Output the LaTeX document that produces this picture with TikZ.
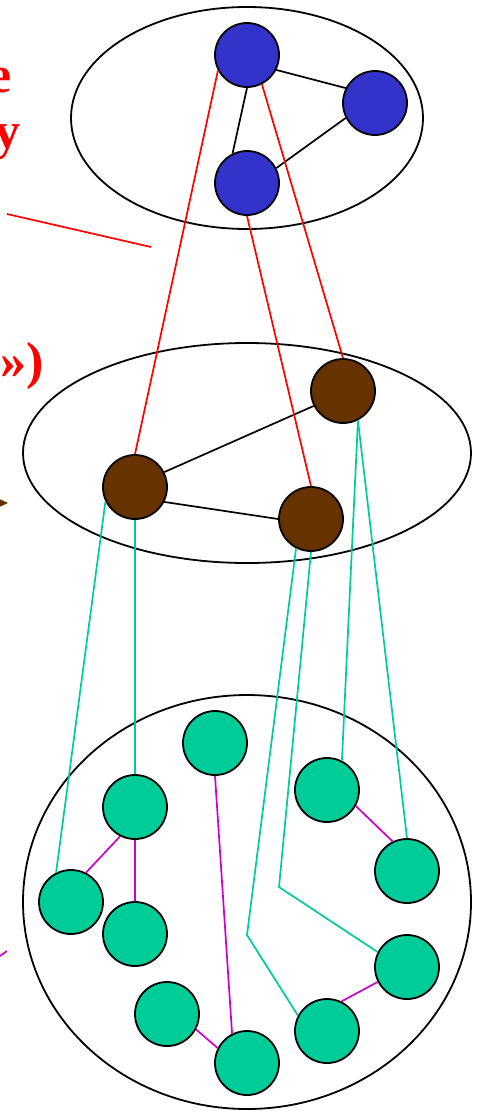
\documentclass[tikz,border=0pt]{standalone}
\usepackage{fontspec}
\setmainfont{Liberation Serif}
\usetikzlibrary{arrows.meta}
\definecolor{nblue}{HTML}{3333CC}
\definecolor{nbrown}{HTML}{663300}
\definecolor{ngreen}{HTML}{00CC99}
\definecolor{nmag}{HTML}{CC00CC}
\definecolor{nred}{HTML}{FF0000}
\tikzset{
  lvl/.style={draw=black, line width=1.8pt},
  vtx/.style={circle, draw=black, line width=1.8pt, minimum size=64pt, inner sep=0pt},
  bluev/.style={vtx, fill=nblue},
  brownv/.style={vtx, fill=nbrown},
  greenv/.style={vtx, fill=ngreen},
  blk/.style={draw=black, line width=1.7pt},
  redl/.style={draw=nred, line width=1.7pt},
  grnl/.style={draw=ngreen, line width=1.7pt},
  magl/.style={draw=nmag, line width=1.7pt},
  lbl/.style={text=nred, font=\bfseries\fontsize{52}{60}\selectfont, inner sep=0pt, anchor=base east}
}
\begin{document}
\begin{tikzpicture}[x=1pt, y=-1pt]
\useasboundingbox (0,0) rectangle (479,1111);
\clip (0,0) rectangle (479,1111);
% level ellipses
\draw[lvl] (247,118) ellipse [x radius=176, y radius=111];
\draw[lvl] (247,453) ellipse [x radius=224, y radius=110];
\draw[lvl] (247,902) ellipse [x radius=224, y radius=207];
% clipped labels
\node[lbl] (t1) at (12,92) {e};
\node[lbl] (t2) at (21,148) {y};
\node[lbl] (t3) at (44,378) {»)};
% top level
\node[bluev] (A) at (247,55) {};
\node[bluev] (B) at (375,103) {};
\node[bluev] (C) at (247,183) {};
% middle level
\node[brownv] (D) at (135,487) {};
\node[brownv] (E) at (343,391) {};
\node[brownv] (F) at (311,519) {};
% bottom level
\node[greenv] (M) at (215,743) {};
\node[greenv] (H) at (135,807) {};
\node[greenv] (G) at (71,902) {};
\node[greenv] (N) at (135,934) {};
\node[greenv] (O) at (167,1014) {};
\node[greenv] (P) at (247,1063) {};
\node[greenv] (I) at (327,1031) {};
\node[greenv] (J) at (407,967) {};
\node[greenv] (L) at (407,871) {};
\node[greenv] (K) at (327,790) {};
% black edges
\draw[blk] (A.333) -- (B.153);
\draw[blk] (A.270) -- (C.116);
\draw[blk] (B.207) -- (C.27);
\draw[blk] (D.27) -- (E.207);
\draw[blk] (D.333) -- (F.180);
% red links
\draw[redl] (A.208) -- (D.90);
\draw[redl] (A.297) -- (E.90);
\draw[redl] (C.270) -- (F.90);
% green links
\draw[grnl] (D.206) -- (G.117);
\draw[grnl] (D.270) -- (H.90);
\coordinate (b1) at (247,935);
\coordinate (b2) at (279,887);
\draw[grnl] (F.243) -- (b1) -- (I.152);
\draw[grnl] (F.270) -- (b2) -- (J.153);
\draw[grnl] (E.297) -- (K.63);
\draw[grnl] (E.297) -- (L.90);
% magenta edges
\draw[magl] (H.243) -- (G.63);
\draw[magl] (H.270) -- (N.90);
\draw[magl] (M.270) -- (P.117);
\draw[magl] (O.332) -- (P.153);
\draw[magl] (K.331) -- (L.116);
\draw[magl] (I.64) -- (J.207);
% fragments at left edge
\coordinate (r1) at (7,214);
\coordinate (r2) at (151,247);
\draw[redl] (r1) -- (r2);
\coordinate (a1) at (-40,503);
\coordinate (a2) at (8,503);
\draw[draw=nbrown, fill=nbrown, line width=1.4pt, -{Stealth[length=12pt, width=11pt]}] (a1) -- (a2);
\coordinate (m1) at (7,951);
\coordinate (m2) at (-20,970);
\draw[magl] (m1) -- (m2);
\end{tikzpicture}
\end{document}
